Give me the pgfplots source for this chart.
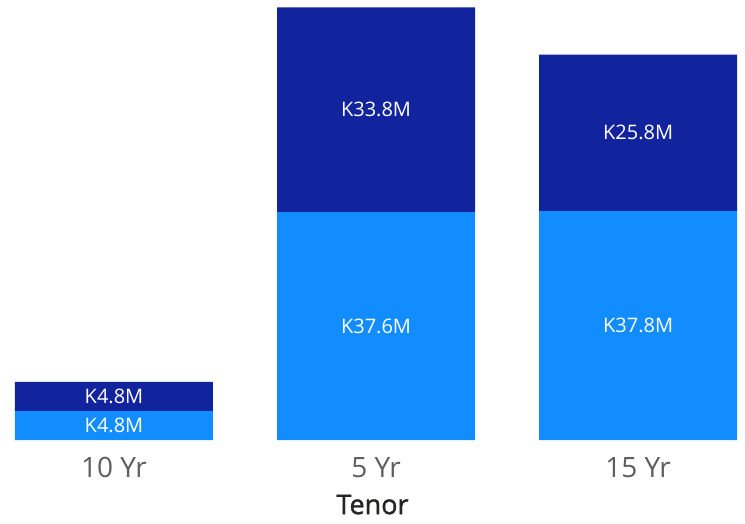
\documentclass[border=0pt]{standalone}
\usepackage{fontspec}
\setmainfont{Open Sans}
\newfontfamily\titlefont{Open Sans}[FakeBold=1.3]
\usepackage{pgfplots}
\pgfplotsset{compat=1.18}
\definecolor{darkb}{HTML}{12239E}
\definecolor{lightb}{HTML}{118DFF}
\definecolor{ticktxt}{HTML}{605E5C}
\definecolor{titletxt}{HTML}{252423}
\tikzset{barlbl/.style={text=white, font=\fontsize{20}{22}\selectfont, inner sep=0pt}}
\begin{document}
\begin{tikzpicture}
\begin{axis}[
  name=ax,
  scale only axis,
  width=745pt, height=440pt,
  xmin=-0.435, xmax=2.408,
  ymin=0, ymax=72.6,
  ybar stacked,
  bar width=198pt,
  axis line style={draw=none},
  ytick=\empty,
  xtick={0,1,2},
  xticklabels={10 Yr,5 Yr,15 Yr},
  major tick length=0pt,
  xticklabel style={anchor=base, inner sep=0pt, yshift=-37pt, font=\fontsize{28}{30}\selectfont, text=ticktxt},
  xlabel={Tenor},
  xlabel style={at={(axis description cs:0.5,0)}, anchor=base, inner sep=0pt, yshift=-74pt, font=\titlefont\fontsize{27}{30}\selectfont, text=titletxt},
  clip=false,
]
\addplot[fill=lightb, draw=none] coordinates {(0,4.8) (1,37.6) (2,37.8)};
\addplot[fill=darkb, draw=none] coordinates {(0,4.8) (1,33.8) (2,25.8)};
\coordinate (l1) at (axis cs:0,2.4);
\coordinate (l2) at (axis cs:0,7.2);
\coordinate (l3) at (axis cs:1,18.8);
\coordinate (l4) at (axis cs:1,54.5);
\coordinate (l5) at (axis cs:2,18.9);
\coordinate (l6) at (axis cs:2,50.7);
\end{axis}
\node[barlbl] at (l1) {K4.8M};
\node[barlbl] at (l2) {K4.8M};
\node[barlbl] at (l3) {K37.6M};
\node[barlbl] at (l4) {K33.8M};
\node[barlbl] at (l5) {K37.8M};
\node[barlbl] at (l6) {K25.8M};
\useasboundingbox (ax.south west) ++(0,-83pt) rectangle (ax.north east);
\end{tikzpicture}
\end{document}
